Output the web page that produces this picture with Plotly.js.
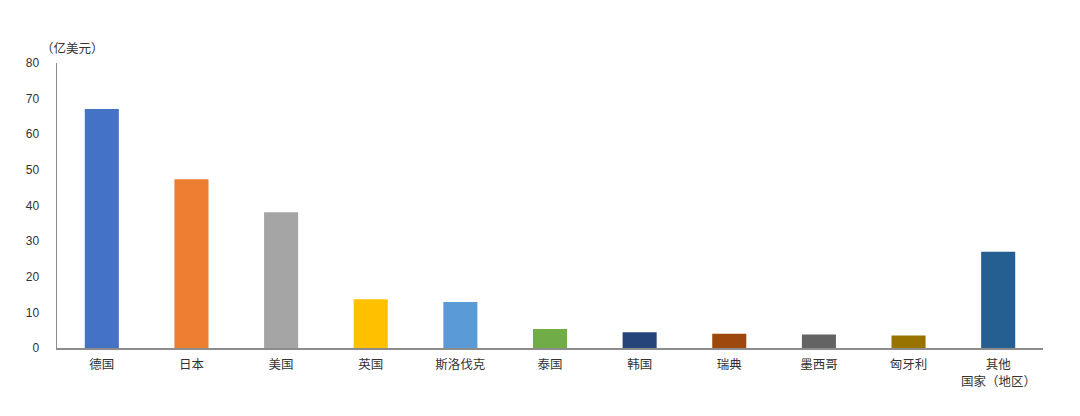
<!DOCTYPE html>
<html><head><meta charset="utf-8">
<script src="https://cdn.plot.ly/plotly-3.0.1.min.js"></script>
<style>html,body{margin:0;padding:0;background:#fff}#c{width:1080px;height:416px}</style>
</head><body><div id="c"></div>
<script>
const categories = ["德国","日本","美国","英国","斯洛伐克","泰国","韩国","瑞典","墨西哥","匈牙利","其他国家（地区）"];
const tickLabels = ["德国","日本","美国","英国","斯洛伐克","泰国","韩国","瑞典","墨西哥","匈牙利","其他"];
const secondLine = "国家（地区）";
const values = [67.1, 47.4, 38.1, 13.7, 12.9, 5.3, 4.4, 4.0, 3.8, 3.5, 27.0];
const colors = ["#4472C4","#ED7D31","#A5A5A5","#FFC000","#5B9BD5","#70AD47","#264478","#9E480E","#636363","#997300","#255E91"];
const yTicks = [0,10,20,30,40,50,60,70,80];
const unitLabel = "（亿美元）";

const font = {family:"'Noto Sans CJK SC', 'Liberation Sans', sans-serif", size:12.5, color:"#333333"};
Plotly.newPlot("c", [{
  type:"bar", x:categories, y:values,
  marker:{color:colors},
  width:0.38, hoverinfo:"skip"
}], {
  width:1080, height:416,
  margin:{l:57, r:37, t:63, b:68},
  paper_bgcolor:"#fff", plot_bgcolor:"#fff",
  font:font,
  showlegend:false,
  xaxis:{showline:true, linecolor:"#8c8c8c", linewidth:1.5, ticks:"", showgrid:false, zeroline:false, tickfont:font, ticklabelstandoff:4, tickvals:categories, ticktext:tickLabels, fixedrange:true},
  yaxis:{range:[0,80], tickvals:yTicks, showline:true, linecolor:"#8c8c8c", linewidth:1.5, ticks:"", showgrid:false, zeroline:false, tickfont:{family:"'Liberation Sans', sans-serif", size:12, color:"#333"}, ticklabelstandoff:14, fixedrange:true},
  annotations:[
    {text:unitLabel, xref:"paper", yref:"paper", x:-0.018, y:1.015, xanchor:"left", yanchor:"bottom", showarrow:false, font:font},
    {text:secondLine, xref:"x", yref:"paper", x:categories[categories.length-1], y:-0.075, xanchor:"center", yanchor:"top", showarrow:false, font:font}
  ]
}, {staticPlot:true});
</script></body></html>
